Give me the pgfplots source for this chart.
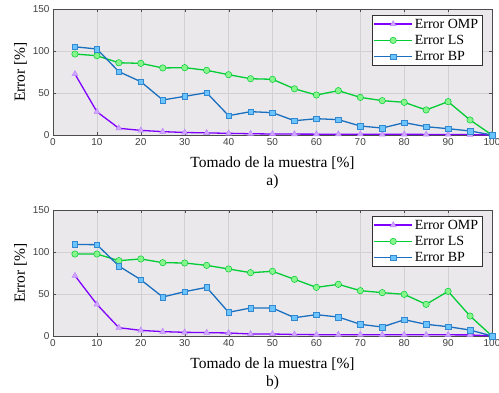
\documentclass[border=0pt]{standalone}
\usepackage{fontspec}
\setmainfont{Liberation Serif}
\newfontfamily\tickfont{Liberation Sans}
\usepackage{pgfplots}
\pgfplotsset{compat=1.18}
\definecolor{bgc}{HTML}{EBE8EC}
\definecolor{ompl}{HTML}{7F00FF}
\definecolor{ompf}{HTML}{CFA8FF}
\definecolor{lsl}{HTML}{00CC33}
\definecolor{lsf}{HTML}{88F58C}
\definecolor{bpl}{HTML}{1A6FBF}
\definecolor{bpf}{HTML}{6CC4FF}
\pgfplotsset{
  myax/.style={
    scale only axis, width=439pt, height=126pt,
    xmin=0, xmax=100, ymin=0, ymax=150,
    xtick={0,10,...,100}, ytick={0,50,100,150},
    axis background/.style={fill=bgc},
    grid=major, major grid style={draw=black!18, line width=0.5pt},
    axis line style={draw=black!70, line width=0.6pt},
    tick style={draw=black!70},
    tick align=inside, major tick length=3pt,
    ticklabel style={font=\tickfont\fontsize{10}{11}\selectfont, text=black!75},
    /pgf/number format/assume math mode=true,
    xlabel style={font=\fontsize{15.5}{18.5}\selectfont, align=center, yshift=-4pt},
    ylabel style={font=\fontsize{15.5}{18}\selectfont, yshift=-1pt},
    ylabel={Error [\%]},
    legend style={at={(0.977,0.952)}, anchor=north east, font=\fontsize{14}{15}\selectfont,
      draw=black!80, fill=white, inner sep=1.5pt, row sep=1.5pt, legend cell align=left},
    legend image code/.code={\draw[mark repeat=2,mark phase=2] plot coordinates {(0pt,0pt)(19pt,0pt)(38pt,0pt)};},
  },
  omp/.style={ompl, line width=1.3pt, mark=triangle*, mark options={fill=ompf, draw=ompf!80!ompl, line width=0.5pt, mark size=3.4pt}},
  ls/.style={lsl, line width=1.3pt, mark=*, mark options={fill=lsf, draw=lsl, line width=0.5pt, mark size=3.2pt}},
  bp/.style={bpl, line width=1.3pt, mark=square*, mark options={fill=bpf, draw=bpl!70!bpf, line width=0.5pt, mark size=2.8pt}},
}
\begin{document}
\begin{tikzpicture}
\useasboundingbox (0,0) rectangle (499pt,392pt);
\begin{axis}[myax, at={(53pt,257pt)}, anchor=south west,
  xlabel={Tomado de la muestra [\%]\\a)}]
\addplot[omp] coordinates {(5,72.6)(10,27.7)(15,8)(20,5.5)(25,4)(30,3)(35,2.5)(40,2)(45,1.5)(50,1.2)(55,1.1)(60,1)(65,1)(70,0.9)(75,0.8)(80,0.8)(85,0.7)(90,0.6)(95,0.5)(100,0)};
\addlegendentry{Error OMP}
\addplot[ls] coordinates {(5,96.4)(10,94.4)(15,86)(20,85.3)(25,79.8)(30,80.2)(35,77)(40,71.8)(45,67)(50,66.3)(55,55)(60,47.6)(65,52.8)(70,44.8)(75,40.9)(80,38.9)(85,29.8)(90,39.7)(95,17.9)(100,0)};
\addlegendentry{Error LS}
\addplot[bp] coordinates {(5,105)(10,102.4)(15,75.4)(20,63.5)(25,41.7)(30,46)(35,50.4)(40,23)(45,27.8)(50,26.6)(55,17)(60,19.4)(65,18.3)(70,10.7)(75,8.3)(80,14.7)(85,9.9)(90,7.5)(95,4.8)(100,0)};
\addlegendentry{Error BP}
\end{axis}
\begin{axis}[myax, at={(53pt,56pt)}, anchor=south west,
  xlabel={Tomado de la muestra [\%]\\b)}]
\addplot[omp] coordinates {(5,71.8)(10,37.7)(15,9.9)(20,6.7)(25,5.2)(30,4.4)(35,4)(40,3.6)(45,2.4)(50,2.4)(55,1.8)(60,1.6)(65,1.6)(70,1.6)(75,1.6)(80,1.5)(85,1.4)(90,1.4)(95,1.3)(100,0)};
\addlegendentry{Error OMP}
\addplot[ls] coordinates {(5,97.6)(10,97.6)(15,89.7)(20,91.7)(25,87.3)(30,86.9)(35,84.1)(40,79.8)(45,75.4)(50,77)(55,67.5)(60,57.9)(65,61.5)(70,54)(75,51.6)(80,49.6)(85,37.7)(90,53.2)(95,23.8)(100,0)};
\addlegendentry{Error LS}
\addplot[bp] coordinates {(5,109)(10,108.7)(15,83.3)(20,67)(25,46.4)(30,52.8)(35,57.9)(40,28.2)(45,33.3)(50,33.3)(55,21.8)(60,25.4)(65,22.6)(70,13.9)(75,10.7)(80,19.4)(85,13.9)(90,11.1)(95,7.1)(100,0)};
\addlegendentry{Error BP}
\end{axis}
\end{tikzpicture}
\end{document}
